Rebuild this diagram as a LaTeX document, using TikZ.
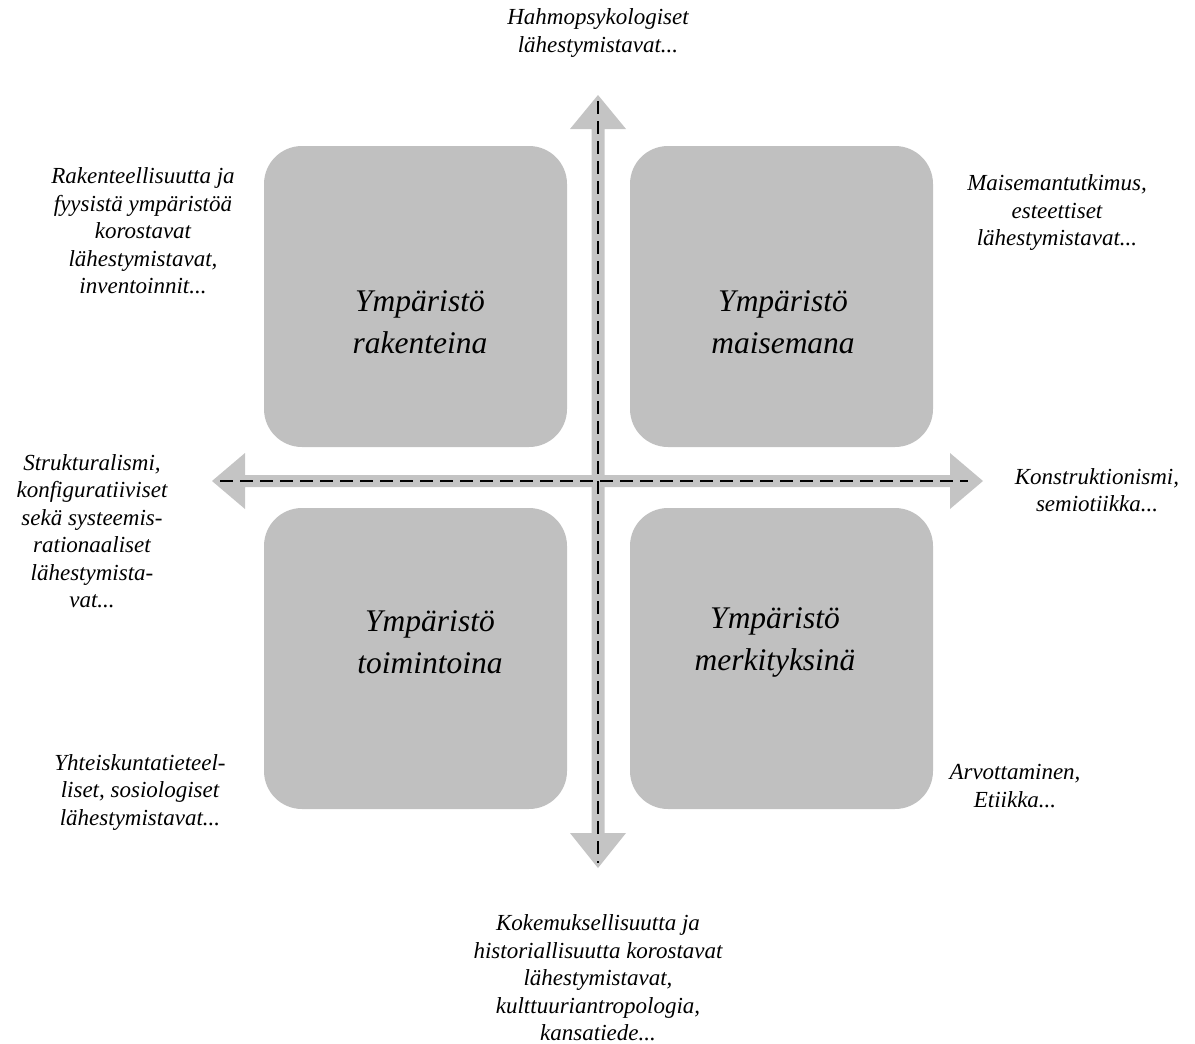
\documentclass[tikz,border=0pt]{standalone}
\usepackage{fontspec}
\setmainfont{Liberation Serif}
\definecolor{boxgray}{RGB}{192,192,192}
\definecolor{arrgray}{RGB}{196,196,196}
\begin{document}
\begin{tikzpicture}[x=1pt,y=-1pt,
  quad/.style={fill=boxgray,rounded corners=38pt},
  qlabel/.style={font=\fontsize{31.5}{42}\selectfont\itshape,align=center,inner sep=0},
  side/.style={font=\fontsize{23}{27.5}\selectfont\itshape,align=center,inner sep=0},
  arrowbody/.style={fill=arrgray},
  axis/.style={line width=2.2pt,dash pattern=on 13pt off 7pt}]
\useasboundingbox (0,0) rectangle (1195,1044);
% quadrant boxes
\path[quad] (264,146) rectangle (567,447);
\path[quad] (630,146) rectangle (933,447);
\path[quad] (264,508) rectangle (567,809);
\path[quad] (630,508) rectangle (933,809);
% arrow tips
\coordinate (up) at (598,95);
\coordinate (down) at (598,868);
\coordinate (left) at (212,481);
\coordinate (right) at (983,481);
% vertical double arrow
\path[arrowbody] (up) -- (626,129) -- (604.5,129) -- (604.5,833) -- (626,833) -- (down)
  -- (570,833) -- (591.5,833) -- (591.5,129) -- (570,129) -- cycle;
% horizontal double arrow
\path[arrowbody] (left) -- (245,453) -- (245,475) -- (950,475) -- (950,453) -- (right)
  -- (950,509) -- (950,487) -- (245,487) -- (245,509) -- cycle;
% dashed axes
\coordinate (vtop) at (598,101);
\coordinate (vbot) at (598,863);
\coordinate (hl) at (220,481);
\coordinate (hr) at (968,481);
\draw[axis] (vtop) -- (vbot);
\draw[axis] (hl) -- (hr);
% quadrant labels
\node[qlabel] (q1) at (420,322) {Ympäristö\\rakenteina};
\node[qlabel] (q2) at (783,322) {Ympäristö\\maisemana};
\node[qlabel] (q3) at (430,642) {Ympäristö\\toimintoina};
\node[qlabel] (q4) at (775,642) {Ympäristö\\merkityksinä};
% side texts
\node[side] (t) at (598,33) {Hahmopsykologiset\\lähestymistavat...};
\node[side] (tl) at (143,231) {Rakenteellisuutta ja\\fyysistä ympäristöä\\korostavat\\lähestymistavat,\\inventoinnit...};
\node[side] (tr) at (1057,213) {Maisemantutkimus,\\esteettiset\\lähestymistavat...};
\node[side] (l) at (92,531) {Strukturalismi,\\konfiguratiiviset\\sekä systeemis-\\rationaaliset\\lähestymista-\\vat...};
\node[side] (r) at (1097,490) {Konstruktionismi,\\semiotiikka...};
\node[side] (bl) at (140,792) {Yhteiskuntatieteel-\\liset, sosiologiset\\lähestymistavat...};
\node[side] (br) at (1015,786) {Arvottaminen,\\Etiikka...};
\node[side] (b) at (598,978) {Kokemuksellisuutta ja\\historiallisuutta korostavat\\lähestymistavat,\\kulttuuriantropologia,\\kansatiede...};
\end{tikzpicture}
\end{document}
